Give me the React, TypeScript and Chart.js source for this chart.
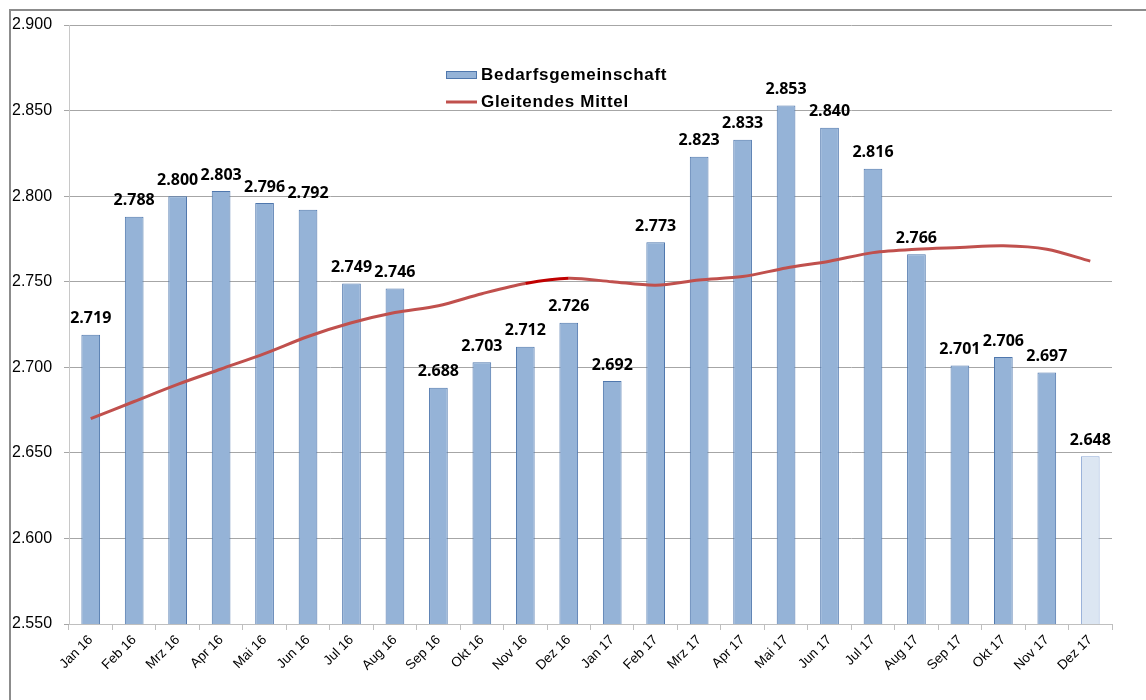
import React, { useEffect, useRef } from "react";
import { Chart, registerables } from "chart.js";

Chart.register(...registerables);

const categories = [
  "Jan 16", "Feb 16", "Mrz 16", "Apr 16", "Mai 16", "Jun 16", "Jul 16", "Aug 16",
  "Sep 16", "Okt 16", "Nov 16", "Dez 16", "Jan 17", "Feb 17", "Mrz 17", "Apr 17",
  "Mai 17", "Jun 17", "Jul 17", "Aug 17", "Sep 17", "Okt 17", "Nov 17", "Dez 17",
];

const bedarfsgemeinschaft = [
  2719, 2788, 2800, 2803, 2796, 2792, 2749, 2746, 2688, 2703, 2712, 2726,
  2692, 2773, 2823, 2833, 2853, 2840, 2816, 2766, 2701, 2706, 2697, 2648,
];

const gleitendesMittel = [
  2670, 2680, 2690, 2699, 2708, 2718, 2726, 2732, 2736, 2743, 2749, 2752,
  2750, 2748, 2751, 2753, 2758, 2762, 2767, 2769, 2770, 2771, 2769, 2762,
];

const seriesNames = ["Bedarfsgemeinschaft", "Gleitendes Mittel"];

const yMin = 2550;
const yMax = 2900;
const yStep = 50;

const fmt = (v: number) => v.toLocaleString("de-DE");

const BAR_FILL = "#95b3d7";
const BAR_BORDER = "#4f77ad";
const LAST_FILL = "#dce6f2";
const LAST_BORDER = "#8eaad6";
const LINE_COLOR = "#c0504d";

export default function App() {
  const canvasRef = useRef<HTMLCanvasElement | null>(null);

  useEffect(() => {
    const canvas = canvasRef.current;
    if (!canvas) return;

    const framePlugin = {
      id: "frame",
      beforeDraw(chart: any) {
        const ctx = chart.ctx;
        ctx.save();
        ctx.fillStyle = "#ffffff";
        ctx.fillRect(0, 0, chart.width, chart.height);
        ctx.strokeStyle = "#8c8c8c";
        ctx.lineWidth = 2;
        ctx.strokeRect(10, 10, chart.width + 50, chart.height + 50);
        ctx.restore();
      },
    };

    const labelsPlugin = {
      id: "barLabels",
      afterDatasetsDraw(chart: any) {
        const ctx = chart.ctx;
        const meta = chart.getDatasetMeta(1);
        ctx.save();
        ctx.font = "bold 16px 'Open Sans'";
        ctx.fillStyle = "#000000";
        ctx.textAlign = "center";
        ctx.textBaseline = "middle";
        meta.data.forEach((bar: any, i: number) => {
          ctx.fillText(fmt(bedarfsgemeinschaft[i]), bar.x, bar.y - 16);
        });
        ctx.restore();
      },
    };

    const legendPlugin = {
      id: "customLegend",
      afterDraw(chart: any) {
        const ctx = chart.ctx;
        const x0 = 446;
        const boxW = 31;
        const textX = 481;
        const y1 = 75;
        const y2 = 102;
        ctx.save();
        ctx.fillStyle = BAR_FILL;
        ctx.fillRect(x0, y1 - 4, boxW, 8);
        ctx.strokeStyle = BAR_BORDER;
        ctx.lineWidth = 1;
        ctx.strokeRect(x0 + 0.5, y1 - 3.5, boxW - 1, 7);
        ctx.strokeStyle = LINE_COLOR;
        ctx.lineWidth = 3;
        ctx.beginPath();
        ctx.moveTo(x0, y2);
        ctx.lineTo(x0 + boxW, y2);
        ctx.stroke();
        ctx.font = "bold 17px 'Liberation Sans'";
        (ctx as any).letterSpacing = "0.7px";
        ctx.fillStyle = "#000000";
        ctx.textAlign = "left";
        ctx.textBaseline = "middle";
        ctx.fillText(seriesNames[0], textX, y1);
        ctx.fillText(seriesNames[1], textX, y2);
        ctx.restore();
      },
    };

    const chart = new Chart(canvas, {
      type: "bar",
      data: {
        labels: categories,
        datasets: [
          {
            type: "line",
            label: seriesNames[1],
            data: gleitendesMittel,
            borderColor: LINE_COLOR,
            borderWidth: 3,
            pointRadius: 0,
            tension: 0.3,
            fill: false,
            order: 0,
            segment: {
              borderColor: (c: any) => (c.p0DataIndex === 10 ? "#c00000" : LINE_COLOR),
            },
          } as any,
          {
            type: "bar",
            label: seriesNames[0],
            data: bedarfsgemeinschaft,
            backgroundColor: bedarfsgemeinschaft.map((_, i) =>
              i === bedarfsgemeinschaft.length - 1 ? LAST_FILL : BAR_FILL
            ),
            borderColor: bedarfsgemeinschaft.map((_, i) =>
              i === bedarfsgemeinschaft.length - 1 ? LAST_BORDER : BAR_BORDER
            ),
            borderWidth: 1,
            borderSkipped: false,
            categoryPercentage: 1,
            barPercentage: 0.43,
            order: 1,
          },
        ],
      },
      options: {
        responsive: false,
        animation: false,
        layout: { padding: { left: 12, top: 25, right: 34, bottom: 0 } },
        plugins: {
          legend: { display: false },
          tooltip: { enabled: false },
        },
        scales: {
          x: {
            offset: true,
            grid: {
              display: true,
              drawOnChartArea: false,
              drawTicks: true,
              tickLength: 6,
              offset: true,
              color: "#bfbfbf",
            },
            border: { display: true, color: "#bfbfbf" },
            ticks: {
              minRotation: 45,
              maxRotation: 45,
              autoSkip: false,
              padding: 2,
              color: "#000000",
              font: { family: "'Liberation Sans'", size: 13.5 },
            },
            afterFit(s: any) {
              s.height = 76;
            },
          },
          y: {
            min: yMin,
            max: yMax,
            ticks: {
              stepSize: yStep,
              color: "#000000",
              crossAlign: "far",
              padding: 6,
              font: { family: "'Liberation Sans'", size: 16 },
              callback: (v: any) => fmt(Number(v)),
            },
            grid: {
              color: "#a6a6a6",
              tickLength: 5,
            },
            border: { display: true, color: "#c8c8c8" },
            afterFit(s: any) {
              s.width = 57;
            },
          },
        },
      } as any,
      plugins: [framePlugin, labelsPlugin, legendPlugin],
    });

    return () => chart.destroy();
  }, []);

  return (
    <div style={{ position: "fixed", left: 0, top: 0, width: 1146, height: 700 }}>
      <canvas ref={canvasRef} width={1146} height={700} style={{ display: "block" }} />
    </div>
  );
}
